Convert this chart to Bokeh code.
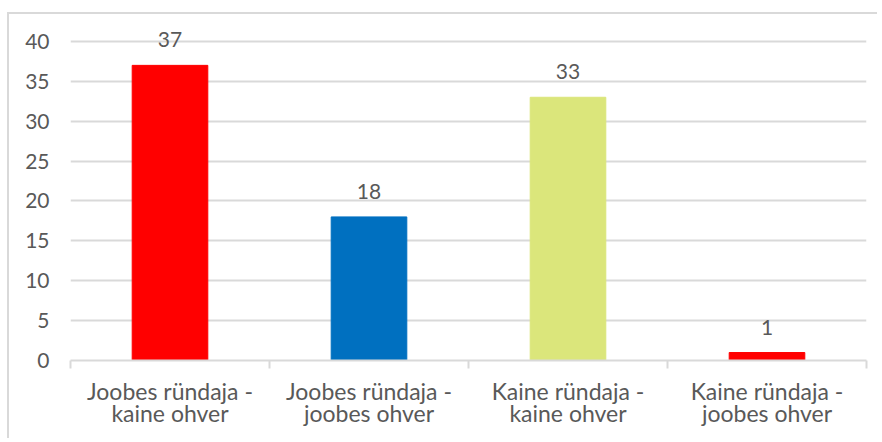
from bokeh.plotting import figure
from bokeh.models import Range1d, FixedTicker, ColumnDataSource, LabelSet
from bokeh.core.properties import value
from bokeh.embed import file_html
from bokeh.resources import INLINE

categories = ["Joobes ründaja -\nkaine ohver", "Joobes ründaja -\njoobes ohver",
              "Kaine ründaja -\nkaine ohver", "Kaine ründaja -\njoobes ohver"]
values = [37, 18, 33, 1]
colors = ["#FF0000", "#0070C0", "#DBE67B", "#FF0000"]
y_ticks = [0, 5, 10, 15, 20, 25, 30, 35, 40]

pos = [i + 0.5 for i in range(len(categories))]
src = ColumnDataSource(dict(x=pos, top=values, color=colors, label=[str(v) for v in values]))

FONT = "Lato"
TXT = "#595959"
GRID = "#D9D9D9"

p = figure(width=870, height=426, output_backend="svg", toolbar_location=None,
           x_range=Range1d(0, len(categories)), y_range=Range1d(0, 43),
           min_border_left=61, min_border_right=13, min_border_top=3, min_border_bottom=80)
p.outline_line_color = None
p.styles = {"border-top": "2px solid #D9D9D9", "border-left": "2px solid #D9D9D9",
            "margin-top": "12px", "margin-left": "7px"}

p.vbar(x="x", top="top", bottom=0, width=0.38, color="color", source=src)
labels = LabelSet(x="x", y="top", text="label", source=src, text_align="center",
                  text_baseline="alphabetic", y_offset=18, text_color=TXT,
                  text_font=value(FONT), text_font_size="21px")
p.add_layout(labels)

p.xgrid.grid_line_color = None
p.ygrid.grid_line_color = GRID
p.ygrid.grid_line_width = 2
p.ygrid.ticker = FixedTicker(ticks=y_ticks)

p.yaxis.ticker = FixedTicker(ticks=y_ticks)
p.yaxis.axis_line_color = None
p.yaxis.major_tick_line_color = None
p.yaxis.minor_tick_line_color = None
p.yaxis.major_label_standoff = 15
p.yaxis.major_label_text_color = TXT
p.yaxis.major_label_text_font = FONT
p.yaxis.major_label_text_font_size = "21px"

p.xaxis.ticker = FixedTicker(ticks=pos, minor_ticks=list(range(len(categories) + 1)))
p.xaxis.major_label_overrides = {x: c for x, c in zip(pos, categories)}
p.xaxis.axis_line_color = GRID
p.xaxis.axis_line_width = 2
p.xaxis.major_tick_line_color = None
p.xaxis.minor_tick_line_color = GRID
p.xaxis.minor_tick_line_width = 2
p.xaxis.minor_tick_out = 8
p.xaxis.minor_tick_in = 0
p.xaxis.major_label_standoff = 8
p.xaxis.major_label_text_color = TXT
p.xaxis.major_label_text_font = FONT
p.xaxis.major_label_text_font_size = "23px"
p.xaxis.major_label_text_line_height = 0.82

open("out.html", "w").write(file_html(p, INLINE))
